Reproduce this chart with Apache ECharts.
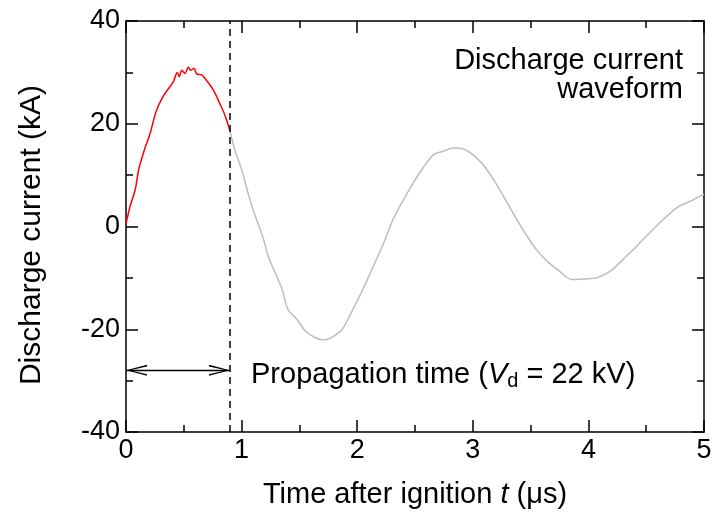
<!DOCTYPE html>
<html>
<head>
<meta charset="utf-8">
<script src="https://cdn.jsdelivr.net/npm/echarts@6/dist/echarts.min.js"></script>
<style>
html,body{margin:0;padding:0;background:#fff;}
#c{width:721px;height:514px;}
</style>
</head>
<body>
<div id="c"></div>
<script>
// Red part (ignition to propagation end)
const tRed = [0, 0.035, 0.08, 0.11, 0.16, 0.21, 0.26, 0.32, 0.38, 0.41, 0.444, 0.461, 0.482, 0.51, 0.539, 0.56, 0.588, 0.611, 0.655, 0.68, 0.755, 0.81, 0.855, 0.9];
const iRed = [0.5, 3.9, 7.2, 11.1, 15.0, 18.2, 22.4, 25.3, 27.2, 28.2, 30.0, 29.2, 30.4, 29.8, 31.0, 30.4, 30.8, 29.7, 29.5, 28.9, 26.6, 24.0, 21.7, 18.6];
// Gray part (remaining waveform)
const tGray = [0.9, 0.94, 1.0, 1.04, 1.09, 1.14, 1.19, 1.23, 1.29, 1.35, 1.4, 1.48, 1.55, 1.635, 1.71, 1.78, 1.87, 1.95, 2.05, 2.14, 2.23, 2.31, 2.4, 2.485, 2.56, 2.66, 2.74, 2.83, 2.92, 3.0, 3.09, 3.18, 3.25, 3.29, 3.38, 3.47, 3.55, 3.64, 3.75, 3.855, 3.96, 4.07, 4.19, 4.3, 4.42, 4.53, 4.65, 4.76, 4.88, 5.0];
const iGray = [18.6, 15.0, 11.1, 7.8, 3.9, 0.7, -2.5, -5.8, -9.0, -12.2, -16.1, -18.1, -20.3, -21.6, -22.1, -21.6, -20.0, -16.7, -12.2, -7.7, -3.2, 1.4, 5.2, 8.5, 11.1, 14.0, 14.6, 15.3, 15.1, 14.0, 12.0, 9.1, 6.5, 4.9, 1.4, -1.9, -4.5, -6.7, -8.7, -10.3, -10.2, -10.0, -8.7, -6.4, -3.8, -1.2, 1.4, 3.6, 4.9, 6.3];
const propagationTime = 0.9;
const arrowLevel = -28;
const xMin = 0, xMax = 5, xStep = 1;
const yMin = -40, yMax = 40, yStep = 20;

const FONT = "'Liberation Sans', Arial, Helvetica, sans-serif";
const chart = echarts.init(document.getElementById('c'), null, {renderer: 'canvas'});
const redData = tRed.map((t, i) => [t, iRed[i]]);
const grayData = tGray.map((t, i) => [t, iGray[i]]);
const chevron = 'path://M0,10 L5,0 L10,10 L8.5,10 L5,2 L1.5,10 Z';

const axisCommon = {
  axisLine: {show: true, onZero: false, lineStyle: {color: '#000', width: 1.5}},
  axisTick: {show: true, inside: true, length: 12, lineStyle: {color: '#000', width: 1.5}},
  minorTick: {show: true, splitNumber: 2, length: 7, lineStyle: {color: '#000', width: 1.5}},
  splitLine: {show: false}
};

chart.setOption({
  animation: false,
  backgroundColor: '#fff',
  grid: {left: 126, right: 17, top: 21, bottom: 81, containLabel: false},
  xAxis: [
    Object.assign({
      type: 'value', min: xMin, max: xMax, interval: xStep, position: 'bottom',
      axisLabel: {color: '#000', fontSize: 27, fontFamily: FONT, margin: 5},
      name: 'Time after ignition {i|t} (μs)', nameLocation: 'middle', nameGap: 48,
      nameTextStyle: {color: '#000', fontSize: 29, fontFamily: FONT,
        rich: {i: {fontStyle: 'italic', fontSize: 29, fontFamily: FONT, color: '#000'}}}
    }, axisCommon),
    Object.assign({
      type: 'value', min: xMin, max: xMax, interval: xStep, position: 'top',
      axisLabel: {show: false}
    }, axisCommon)
  ],
  yAxis: [
    Object.assign({
      type: 'value', min: yMin, max: yMax, interval: yStep, position: 'left',
      axisLabel: {color: '#000', fontSize: 27, fontFamily: FONT, margin: 6}
    }, axisCommon),
    Object.assign({
      type: 'value', min: yMin, max: yMax, interval: yStep, position: 'right',
      axisLabel: {show: false}
    }, axisCommon)
  ],
  series: [
    {
      type: 'line', xAxisIndex: 0, yAxisIndex: 0, data: grayData, showSymbol: false,
      smooth: 0.3,
      lineStyle: {color: '#bdbdbd', width: 1.5}, z: 2,
      markLine: {
        silent: true, animation: false,
        label: {show: false},
        data: [
          {xAxis: propagationTime, symbol: 'none',
            lineStyle: {color: '#000', type: [7, 5], width: 1.5}},
          [
            {coord: [xMin, arrowLevel], symbol: chevron, symbolSize: [11, 21], symbolOffset: [0, 10.5],
              lineStyle: {color: '#000', type: 'solid', width: 1.3}},
            {coord: [propagationTime, arrowLevel], symbol: chevron, symbolSize: [11, 21], symbolOffset: [0, 10.5]}
          ]
        ],
        symbol: 'none'
      }
    },
    {
      type: 'line', xAxisIndex: 0, yAxisIndex: 0, data: redData, showSymbol: false,
      smooth: 0.3,
      lineStyle: {color: '#ff0000', width: 1.5}, z: 3
    }
  ],
  graphic: [
    {type: 'group', x: 32, y: 235, rotation: Math.PI / 2, children: [
      {type: 'text', x: 0, y: 0, style: {
        text: 'Discharge current (kA)', align: 'center', verticalAlign: 'middle', fill: '#000',
        font: '30px ' + FONT}}
    ]},
    {type: 'text', x: 683, y: 46, style: {
      text: 'Discharge current\nwaveform', align: 'right', verticalAlign: 'top', fill: '#000',
      font: '29px ' + FONT, lineHeight: 29}},
    {type: 'text', x: 251, y: 359, style: {
      text: 'Propagation time ({i|V}{sub|d} = 22 kV)', fill: '#000',
      font: '29px ' + FONT,
      rich: {
        i: {fontStyle: 'italic', fontSize: 29, fontFamily: FONT, fill: '#000'},
        sub: {fontSize: 20, fontFamily: FONT, fill: '#000', padding: [12, 0, 0, 0]}
      }}}
  ]
});
</script>
</body>
</html>
